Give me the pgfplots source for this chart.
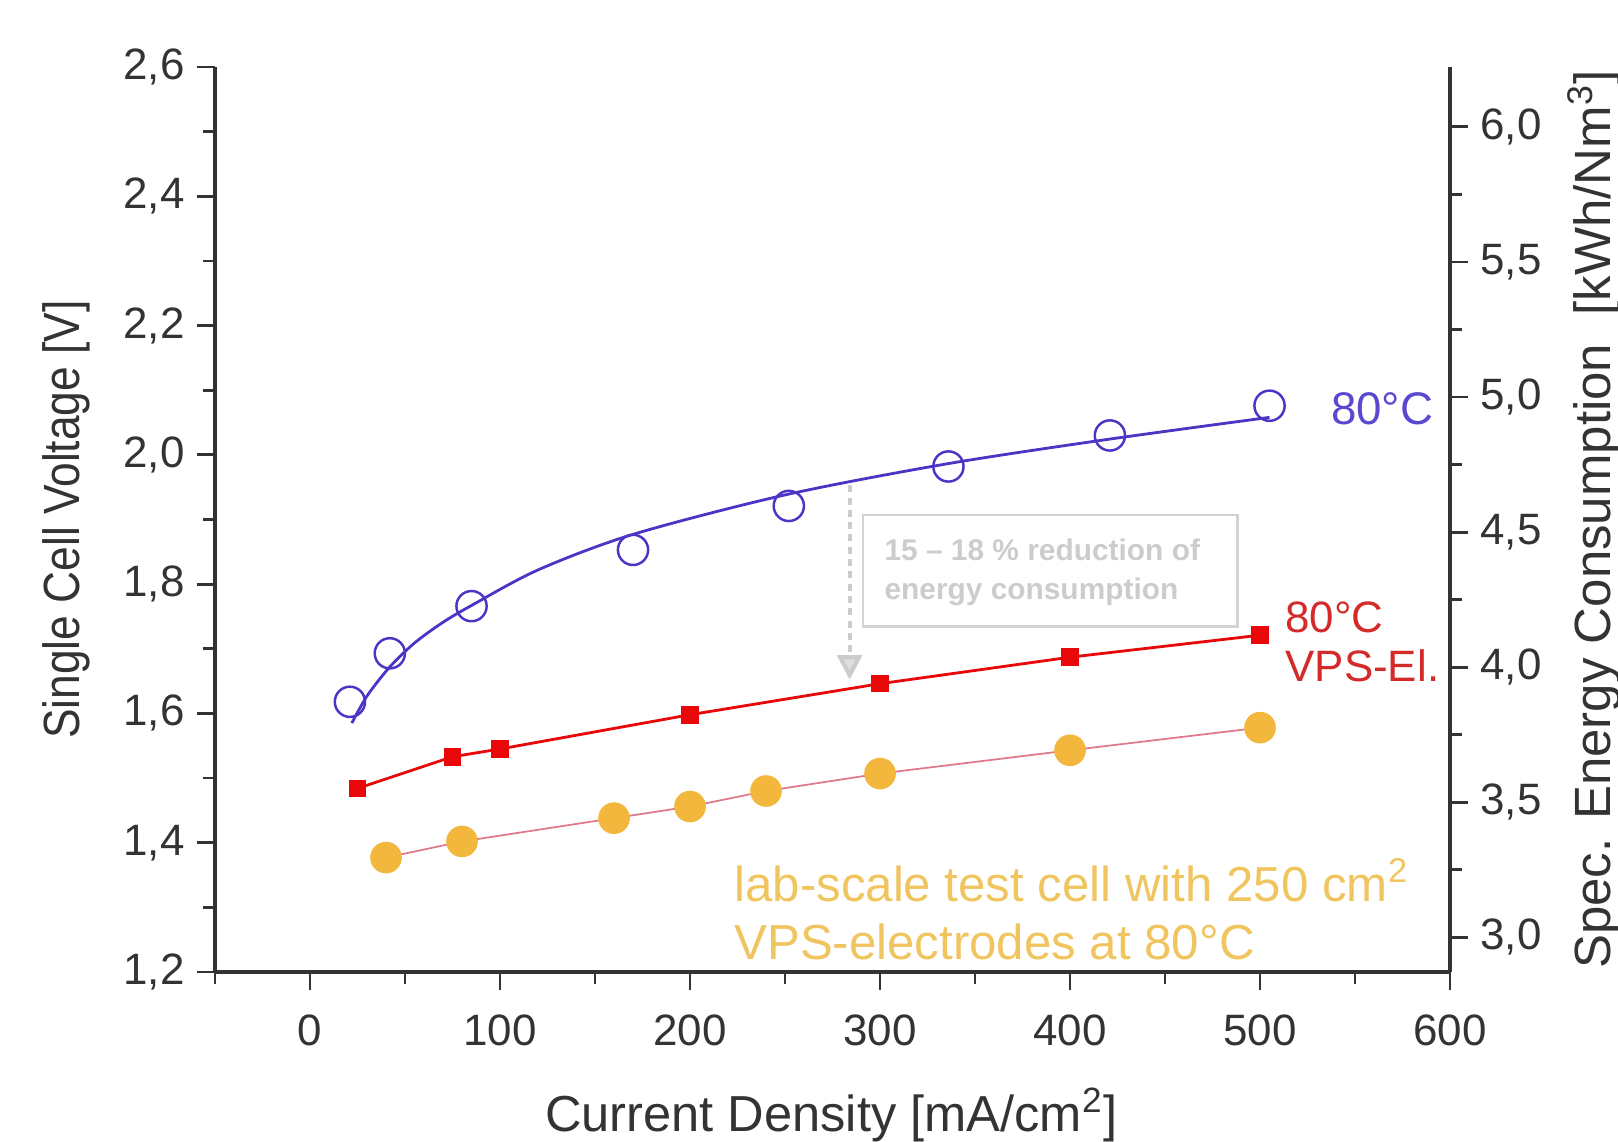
\documentclass[border=0pt]{standalone}
\usepackage{fontspec}
\setmainfont{Liberation Sans}
\newfontfamily\narrowfont[FakeStretch=0.87]{Liberation Sans}
\usepackage{pgfplots}
\pgfplotsset{compat=1.18}
\usetikzlibrary{arrows.meta}

\definecolor{cblue}{HTML}{4A35C4}
\definecolor{cbluetxt}{HTML}{5A48D0}
\definecolor{cred}{HTML}{E8080A}
\definecolor{credtxt}{HTML}{D42A2A}
\definecolor{corange}{HTML}{F2B73C}
\definecolor{corangetxt}{HTML}{F0C560}
\definecolor{cpink}{HTML}{DE7A8C}
\definecolor{caxis}{HTML}{333333}

\pgfplotsset{
  base/.style={
    width=12.35cm, height=9.05cm, scale only axis,
    xmin=-50, xmax=600,
    tick align=outside,
    major tick length=1.8mm, minor tick length=1.2mm,
    every tick/.style={caxis, line width=0.8pt},
    axis line style={caxis, line width=1.1pt, -},
    tick label style={font=\fontsize{12.5}{15}\selectfont, text=caxis},
    /pgf/number format/assume math mode=true,
    yticklabel style={/pgf/number format/.cd, use comma, fixed, fixed zerofill, precision=1},
    xticklabel style={yshift=-1.2mm},
    label style={text=caxis},
    clip=false,
  }
}

\begin{document}
\begin{tikzpicture}
% voltage axis
\begin{axis}[base,
  ymin=1.2, ymax=2.6,
  axis x line*=bottom, axis y line*=left,
  xtick={0,100,200,300,400,500,600},
  minor xtick={-50,50,150,250,350,450,550},
  ytick={1.2,1.4,1.6,1.8,2.0,2.2,2.4,2.6},
  minor ytick={1.3,1.5,1.7,1.9,2.1,2.3,2.5},
  xlabel={Current Density [mA/cm\textsuperscript{2}]},
  xlabel style={at={(rel axis cs:0.499,-0.158)}, anchor=center, font=\fontsize{14.4}{17}\selectfont},
  ylabel={Single Cell Voltage [V]},
  ylabel style={at={(rel axis cs:-0.12,0.5)}, anchor=center, font=\narrowfont\fontsize{14.5}{17}\selectfont},
]
% fitted curve, 80 C reference cell
\addplot[cblue, line width=0.8pt, smooth] coordinates {
  (22,1.585) (30,1.627) (42,1.672) (55,1.709) (70,1.741) (85,1.767)
  (120,1.822) (170,1.877) (250,1.938) (335,1.986) (420,2.024) (505,2.058)
};
\addplot[only marks, mark=o, mark size=4.3pt, cblue, mark options={line width=0.7pt}] coordinates {
  (21,1.618) (42,1.693) (85,1.766) (170,1.853) (252,1.921) (336,1.982) (421,2.030) (505,2.076)
};
% VPS electrodes
\addplot[cred, line width=0.8pt, mark=square*, mark size=2.1pt] coordinates {
  (25,1.484) (75,1.533) (100,1.545) (200,1.598) (300,1.646) (400,1.687) (500,1.721)
};
% lab-scale test cell
\addplot[cpink, line width=0.5pt] coordinates {
  (40,1.377) (80,1.402) (160,1.438) (200,1.456) (240,1.480) (300,1.507) (400,1.543) (500,1.578)
};
\addplot[only marks, mark=*, mark size=4.3pt, corange, mark options={draw=corange}] coordinates {
  (40,1.377) (80,1.402) (160,1.438) (200,1.456) (240,1.480) (300,1.507) (400,1.543) (500,1.578)
};

\draw[gray!40, line width=1.2pt, dash pattern=on 2pt off 1.5pt,
  -{Triangle[width=7pt,length=7pt,fill=gray!25]}] (284,1.953) -- (284,1.652);
\draw[gray!35, line width=0.8pt] (291,1.735) rectangle (488,1.907);
\node[anchor=west, align=left, inner sep=0, text=gray!40,
  font=\bfseries\fontsize{8.5}{11}\selectfont] at (302,1.818)
  {15 -- 18 \% reduction of\\energy consumption};

\node[anchor=west, inner sep=0, text=cbluetxt, font=\fontsize{13}{15}\selectfont] at (537,2.072) {80°C};
\node[anchor=west, align=left, inner sep=0, text=credtxt, font=\fontsize{12.5}{14}\selectfont] at (513,1.711) {80°C\\VPS-El.};
\node[anchor=west, align=left, inner sep=0, text=corangetxt, font=\fontsize{14}{16.5}\selectfont] at (223,1.297)
  {lab-scale test cell with 250 cm\textsuperscript{2}\\VPS-electrodes at 80°C};

\coordinate (bl) at (rel axis cs:-0.1741,-0.1878);
\coordinate (tr) at (rel axis cs:1.1360,1.0740);
\end{axis}
% specific energy consumption axis (2.393 kWh/Nm3 per V)
\begin{axis}[base,
  ymin=2.8716, ymax=6.2218,
  axis x line=none, axis y line*=right,
  ytick={3.0,3.5,4.0,4.5,5.0,5.5,6.0},
  minor ytick={3.25,3.75,4.25,4.75,5.25,5.75},
  ylabel={Spec. Energy Consumption\ \ [kWh/Nm\textsuperscript{3}]},
  ylabel style={at={(rel axis cs:1.1166,0.5)}, anchor=center, font=\fontsize{14.5}{17}\selectfont},
]
\end{axis}
\pgfresetboundingbox
\useasboundingbox (bl) rectangle (tr);
\end{tikzpicture}
\end{document}
